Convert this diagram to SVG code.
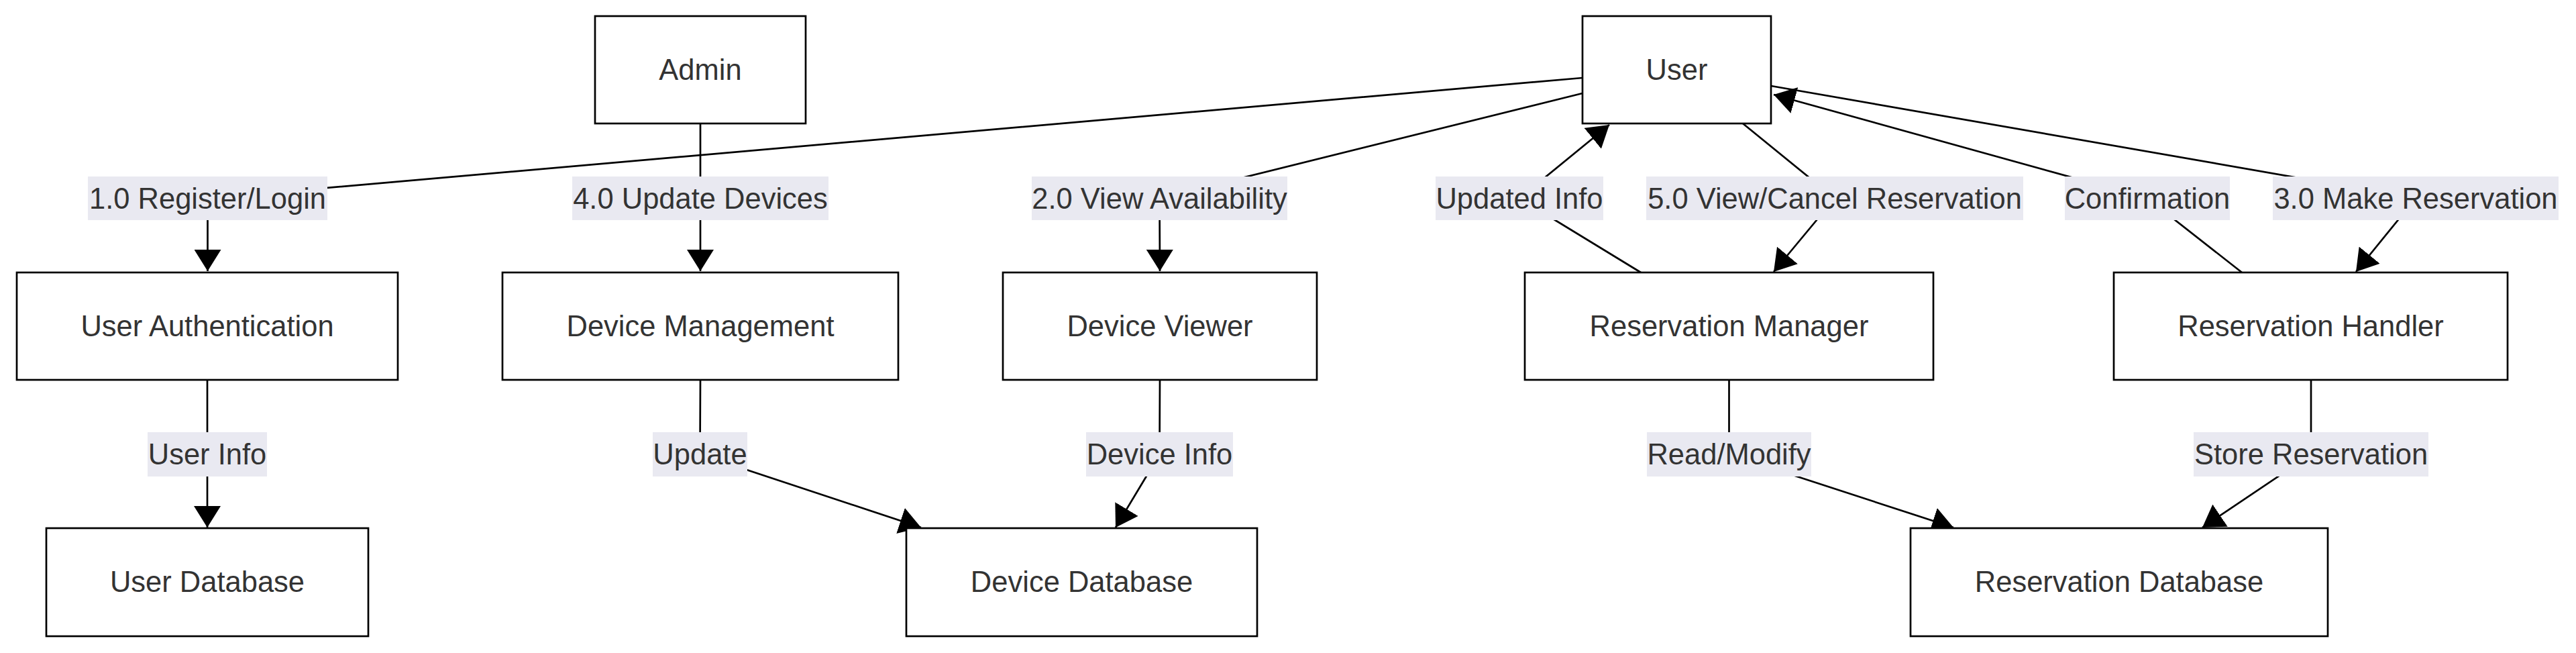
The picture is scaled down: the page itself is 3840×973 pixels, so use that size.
<svg xmlns="http://www.w3.org/2000/svg" width="3840" height="973" viewBox="0 0 3840 973">
<style>
.node rect{fill:#ffffff;stroke:#000000;stroke-width:2.7}
.node text,.lbl text{font-family:"Liberation Sans",Arial,Helvetica,sans-serif;font-size:43.5px;fill:#333333;text-anchor:middle}
.edge{fill:none;stroke:#000000;stroke-width:2.7;marker-end:url(#arrow)}
.lbl rect{fill:#e9e9f1;stroke:none}
</style>
<defs>
<marker id="arrow" markerUnits="userSpaceOnUse" viewBox="0 0 32 40" refX="32" refY="20" markerWidth="32" markerHeight="40" orient="auto">
<path d="M0,0 L32,20 L0,40 Z" fill="#000000"/>
</marker>
</defs>
<rect x="0" y="0" width="3840" height="973" fill="#ffffff"/>
<g id="connectors">
<path class="edge" d="M2359,116 L309.5,295.5 L309.5,404"/>
<path class="edge" d="M1044,184 L1044,404"/>
<path class="edge" d="M2359,139 L1728.5,295.5 L1729,404"/>
<path class="edge" d="M2446,406 L2265,295.5 L2399,186"/>
<path class="edge" d="M2598,184 L2735,295.5 L2644,405"/>
<path class="edge" d="M3342,406 L3201,295.5 L2644,141"/>
<path class="edge" d="M2640,128 L3601,295.5 L3512,405"/>
<path class="edge" d="M1729,566 L1728.5,677 L1663,786"/>
<path class="edge" d="M1044,566 L1043.5,677 L1373,786"/>
<path class="edge" d="M309,566 L309,786"/>
<path class="edge" d="M2577.5,566 L2577.5,677 L2912,786"/>
<path class="edge" d="M3445,566 L3445,677 L3283,786"/>
<g class="lbl">
<rect x="131" y="263" width="357" height="65"/><text x="309.5" y="310.5">1.0 Register/Login</text>
<rect x="853" y="263" width="382" height="65"/><text x="1044" y="310.5">4.0 Update Devices</text>
<rect x="1538" y="263" width="381" height="65"/><text x="1728.5" y="310.5">2.0 View Availability</text>
<rect x="2140" y="263" width="250" height="65"/><text x="2265" y="310.5">Updated Info</text>
<rect x="2454" y="263" width="562" height="65"/><text x="2735" y="310.5">5.0 View/Cancel Reservation</text>
<rect x="3078" y="263" width="246" height="65"/><text x="3201" y="310.5">Confirmation</text>
<rect x="3388" y="263" width="426" height="65"/><text x="3601" y="310.5">3.0 Make Reservation</text>
<rect x="220" y="644" width="178" height="66"/><text x="309" y="691.5">User Info</text>
<rect x="973" y="644" width="141" height="66"/><text x="1043.5" y="691.5">Update</text>
<rect x="1619" y="644" width="219" height="66"/><text x="1728.5" y="691.5">Device Info</text>
<rect x="2455" y="644" width="245" height="66"/><text x="2577.5" y="691.5">Read/Modify</text>
<rect x="3270" y="644" width="350" height="66"/><text x="3445" y="691.5">Store Reservation</text>
</g>
</g>
<g id="node-admin" class="node"><rect x="887" y="24" width="314" height="160"/><text x="1044" y="119">Admin</text></g>
<g id="node-user" class="node"><rect x="2359" y="24" width="281" height="160"/><text x="2499.5" y="119">User</text></g>
<g id="node-user-auth" class="node"><rect x="25" y="406" width="568" height="160"/><text x="309" y="501">User Authentication</text></g>
<g id="node-device-mgmt" class="node"><rect x="749" y="406" width="590" height="160"/><text x="1044" y="501">Device Management</text></g>
<g id="node-device-viewer" class="node"><rect x="1495" y="406" width="468" height="160"/><text x="1729" y="501">Device Viewer</text></g>
<g id="node-res-manager" class="node"><rect x="2273" y="406" width="609" height="160"/><text x="2577.5" y="501">Reservation Manager</text></g>
<g id="node-res-handler" class="node"><rect x="3151" y="406" width="587" height="160"/><text x="3444.5" y="501">Reservation Handler</text></g>
<g id="node-user-db" class="node"><rect x="69" y="787" width="480" height="161"/><text x="309" y="882">User Database</text></g>
<g id="node-device-db" class="node"><rect x="1351" y="787" width="523" height="161"/><text x="1612.5" y="882">Device Database</text></g>
<g id="node-res-db" class="node"><rect x="2848" y="787" width="622" height="161"/><text x="3159" y="882">Reservation Database</text></g>
</svg>
